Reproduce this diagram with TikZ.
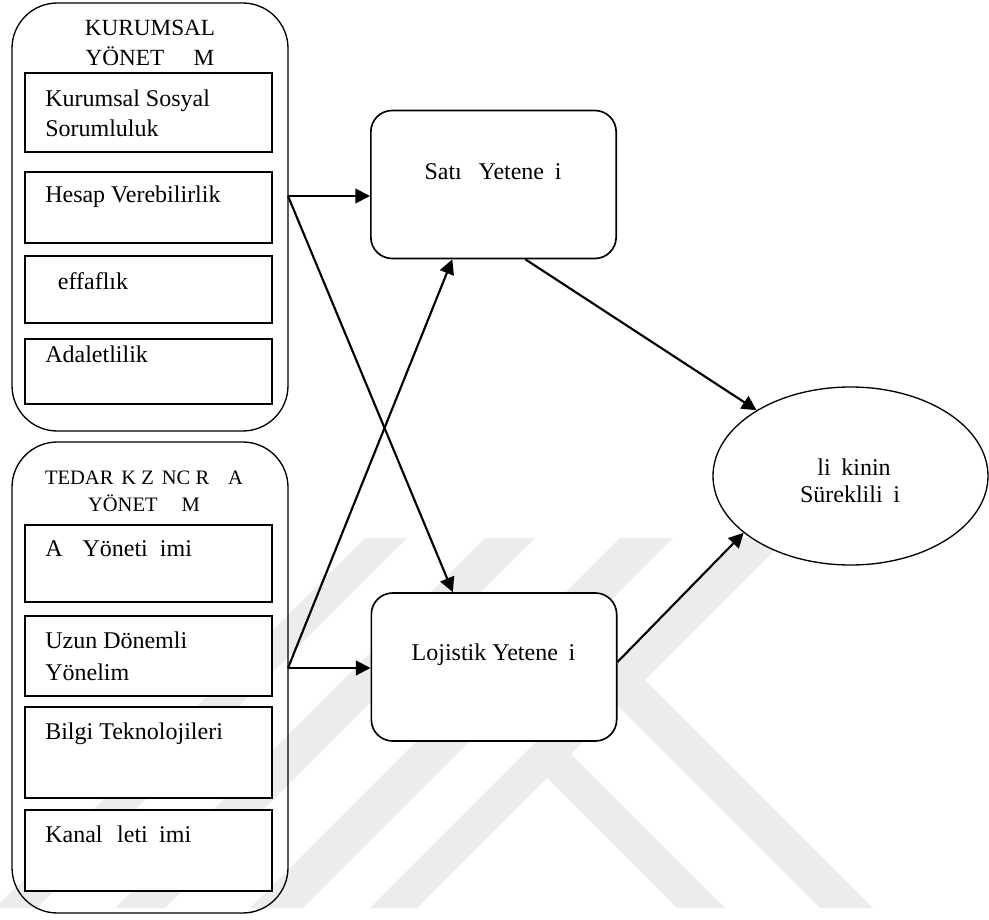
\documentclass[tikz,border=0pt]{standalone}
\usepackage{fontspec}
\setmainfont{Liberation Serif}[Ligatures=NoCommon]
\usetikzlibrary{shapes.geometric,arrows.meta,calc}

\definecolor{wmgray}{RGB}{236,236,236}
\newcommand\bodyfont{\fontsize{18}{22}\selectfont}

\tikzset{
  grp/.style={draw, line width=1pt, rounded corners=34pt, minimum width=207pt, inner sep=0pt},
  item/.style={draw, fill=white, line width=1.3pt, minimum width=185.25pt, inner sep=0pt},
  itemtext/.style={anchor=base west, inner sep=0pt, font=\bodyfont},
  ctext/.style={anchor=base, inner sep=0pt, font=\bodyfont},
  skill/.style={draw, fill=white, line width=1.25pt, rounded corners=16pt,
    minimum width=184pt, minimum height=111pt, inner sep=0pt},
  goal/.style={ellipse, draw, fill=white, line width=1pt,
    minimum width=206.25pt, minimum height=133.5pt, inner sep=0pt},
  link/.style={-{Triangle[length=11pt,width=11pt]}, line width=1.6pt, line join=round},
  wm/.style={fill=wmgray}
}

\begin{document}
\begin{tikzpicture}[x=0.75pt, y=-0.75pt]
  \path[use as bounding box, fill=white] (0,0) rectangle (989,920);

  % faint background emblem
  \fill[wm] (365,538) -- (407,538) -- (37,908) -- (-5,908) -- cycle;
  \fill[wm] (485,538) -- (535,538) -- (165,908) -- (115,908) -- cycle;
  \fill[wm] (620,538) -- (673,538) -- (303,908) -- (250,908) -- cycle;
  \fill[wm] (740,538) -- (787,538) -- (417,908) -- (370,908) -- cycle;
  \fill[wm] (547,730) -- (725,908) -- (677,908) -- (547,778) -- cycle;
  \fill[wm] (595,683) -- (645,680) -- (873,908) -- (820,908) -- cycle;

  % corporate governance group
  \node[grp, minimum height=321pt] (kg) at (150,217) {};
  \node[anchor=base, inner sep=0pt] (kgt) at (150,36)
    {\fontsize{17.4}{22.5}\selectfont\begin{tabular}[t]{@{}c@{}}KURUMSAL\\YÖNET\hspace{22pt}M\end{tabular}};
  \node[item, minimum height=59.25pt] (k1) at (148.5,112.5) {};
  \node[itemtext] (k1t) at (45,106.7) {\begin{tabular}[t]{@{}l@{}}Kurumsal Sosyal\\Sorumluluk\end{tabular}};
  \node[item, minimum height=53.25pt] (k2) at (148.5,207.5) {};
  \node[itemtext] (k2t) at (45,202.7) {Hesap Verebilirlik};
  \node[item, minimum height=50.25pt] (k3) at (148.5,289.5) {};
  \node[itemtext] (k3t) at (45,289) {\hspace*{9.5pt}effaflık};
  \node[item, minimum height=48.75pt] (k4) at (148.5,371.5) {};
  \node[itemtext] (k4t) at (45,362.7) {Adaletlilik};

  % supply chain management group
  \node[grp, minimum height=353.25pt] (tz) at (150,677.5) {};
  \node[anchor=base, inner sep=0pt] (tzt) at (144,484)
    {\fontsize{15.4}{20.8}\selectfont\begin{tabular}[t]{@{}c@{}}TEDAR\hspace{6pt}K\hspace{3.75pt}Z\hspace{6pt}NC\hspace{4pt}R\hspace{14pt}A\\YÖNET\hspace{18pt}M\end{tabular}};
  \node[item, minimum height=57.75pt] (t1) at (148.5,563.5) {};
  \node[itemtext] (t1t) at (45,556.7) {A\hspace{15pt}Yöneti\hspace{9pt}imi};
  \node[item, minimum height=60pt] (t2) at (148.5,656) {};
  \node[itemtext] (t2t) at (45,648.3) {\fontsize{18}{23.8}\selectfont\begin{tabular}[t]{@{}l@{}}Uzun Dönemli\\Yönelim\end{tabular}};
  \node[item, minimum height=68.25pt] (t3) at (148.5,752.5) {};
  \node[itemtext] (t3t) at (45,739.3) {Bilgi Teknolojileri};
  \node[item, minimum height=60.75pt] (t4) at (148.5,850.5) {};
  \node[itemtext] (t4t) at (45,842.7) {Kanal\hspace{11pt}leti\hspace{8.5pt}imi};

  % capability boxes
  \node[skill] (sy) at (493.5,184.5) {};
  \node[ctext] (syt) at (493,179.3) {Satı\hspace{12.5pt}Yetene\hspace{8pt}i};
  \node[skill] (lj) at (494,667) {};
  \node[ctext] (ljt) at (493.5,660.7) {Lojistik Yetene\hspace{8pt}i};

  % outcome
  \node[goal] (el) at (850.5,476) {};
  \node[anchor=base, inner sep=0pt, font=\fontsize{18}{20.5}\selectfont] (elt) at (850,475)
    {\begin{tabular}[t]{@{}c@{}}\hspace*{6pt}li\hspace{8pt}kinin\\Süreklili\hspace{8pt}i\end{tabular}};

  % connectors
  \coordinate (j1) at (288,196);
  \coordinate (j2) at (288,668);
  \draw[link] (j1) -- (sy.west |- j1);
  \draw[link] (j1) -- ($(lj.north west)!1/3!(lj.north east)$);
  \draw[link] (j2) -- (lj.west |- j2);
  \draw[link] (j2) -- ($(sy.south west)!1/3!(sy.south east)$);
  \draw[link] ($(sy.south west)!0.629!(sy.south east)$) -- (el.145);
  \draw[link] ($(lj.east)+(0,-5)$) -- (el.208);
\end{tikzpicture}
\end{document}
